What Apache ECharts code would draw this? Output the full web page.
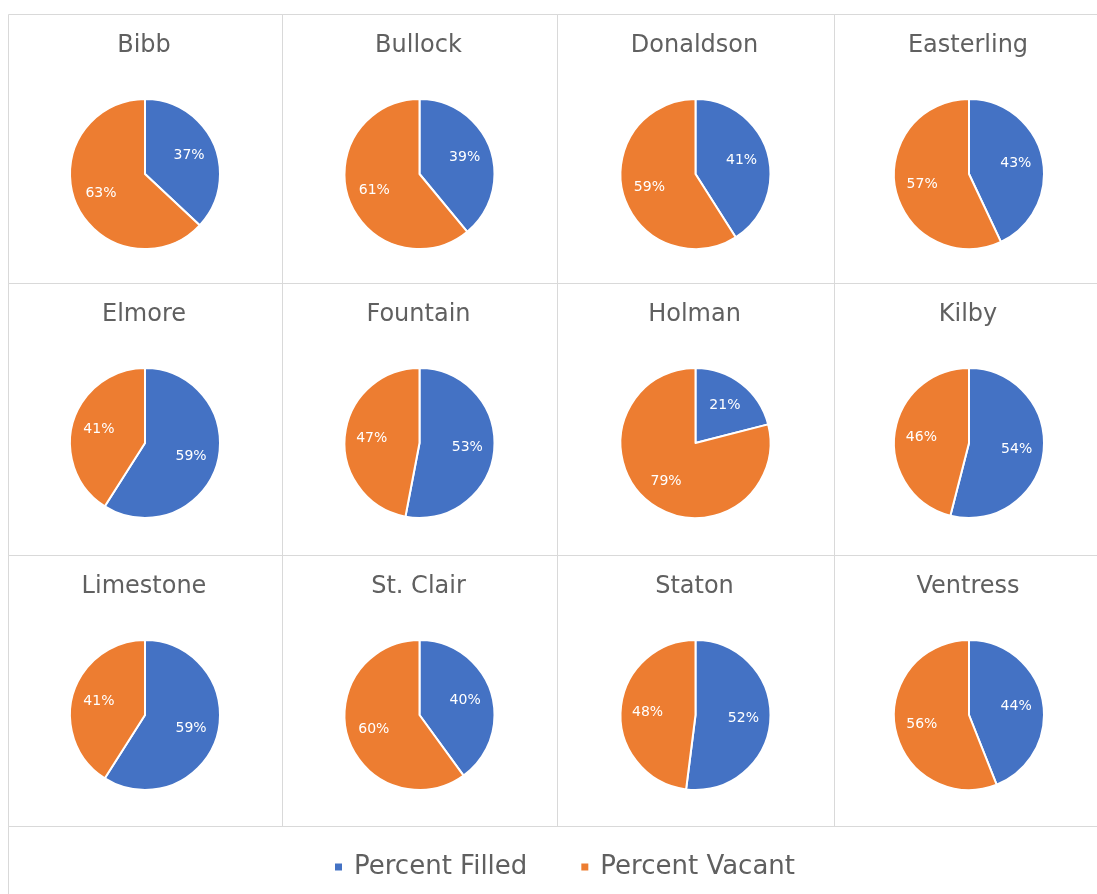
<!DOCTYPE html>
<html>
<head>
<meta charset="utf-8">
<script src="https://cdn.jsdelivr.net/npm/echarts@6/dist/echarts.min.js"></script>
<style>
html, body { margin: 0; padding: 0; background: #fff; }
#main { width: 1097px; height: 894px; }
</style>
</head>
<body>
<div id="main"></div>
<script>
// data
var schools = ['Bibb', 'Bullock', 'Donaldson', 'Easterling', 'Elmore', 'Fountain',
               'Holman', 'Kilby', 'Limestone', 'St. Clair', 'Staton', 'Ventress'];
var filled = [37, 39, 41, 43, 59, 53, 21, 54, 59, 40, 52, 44];
var vacant = [63, 61, 59, 57, 41, 47, 79, 46, 41, 60, 48, 56];
var seriesNames = ['Percent Filled', 'Percent Vacant'];

var myChart = echarts.init(document.getElementById('main'));

// cell layout
var colX = [8, 282, 557, 834, 1104];
var rowY = [14, 283, 555, 826];
var font = 'DejaVu Sans';
var radius = 75;

var titles = [];
var series = [];
var graphics = [];

for (var i = 0; i < schools.length; i++) {
    var c = i % 4, r = Math.floor(i / 4);
    var cx = (colX[c] + colX[c + 1]) / 2;
    var y0 = rowY[r];
    graphics.push({
        type: 'rect',
        shape: { x: colX[c] + 0.5, y: y0 + 0.5, width: colX[c + 1] - colX[c], height: rowY[r + 1] - y0 },
        style: { fill: 'none', stroke: '#d9d9d9', lineWidth: 1 },
        silent: true
    });
    titles.push({
        text: schools[i],
        left: cx - 1,
        top: y0 + 20,
        padding: 0,
        textAlign: 'center',
        textStyle: { fontFamily: font, fontSize: 24, fontWeight: 'normal', color: '#606060' }
    });
    var d = [
        { name: seriesNames[0], value: filled[i] },
        { name: seriesNames[1], value: vacant[i] }
    ];
    // visible pie
    series.push({
        type: 'pie',
        name: seriesNames[0],
        center: [cx, y0 + 160],
        radius: radius,
        startAngle: 90,
        animation: false,
        label: { show: false },
        labelLine: { show: false },
        itemStyle: { borderColor: '#fff', borderWidth: 2 },
        data: d
    });
    // label layer (ring so labels sit ~60% out)
    series.push({
        type: 'pie',
        center: [cx, y0 + 160],
        radius: [radius * 0.2, radius],
        startAngle: 90,
        animation: false,
        silent: true,
        legendHoverLink: false,
        itemStyle: { color: 'rgba(0,0,0,0)', borderWidth: 0 },
        label: {
            show: true,
            position: 'inside',
            formatter: '{c}%',
            color: '#fff',
            fontFamily: font,
            fontSize: 14
        },
        labelLine: { show: false },
        data: d
    });
}

// legend box
graphics.push({
    type: 'rect',
    shape: { x: 8.5, y: 826.5, width: 1100, height: 100 },
    style: { fill: 'none', stroke: '#d9d9d9', lineWidth: 1 },
    silent: true
});

option = {
    backgroundColor: '#fff',
    color: ['#4472C4', '#ED7D31'],
    title: titles,
    legend: {
        data: seriesNames,
        left: 328,
        top: 849,
        icon: 'rect',
        itemWidth: 9,
        itemHeight: 9,
        itemGap: 52,
        textStyle: { fontFamily: font, fontSize: 26, color: '#606060', padding: [0, 0, 0, 6] }
    },
    graphic: graphics,
    series: series
};
myChart.setOption(option);
</script>
</body>
</html>
